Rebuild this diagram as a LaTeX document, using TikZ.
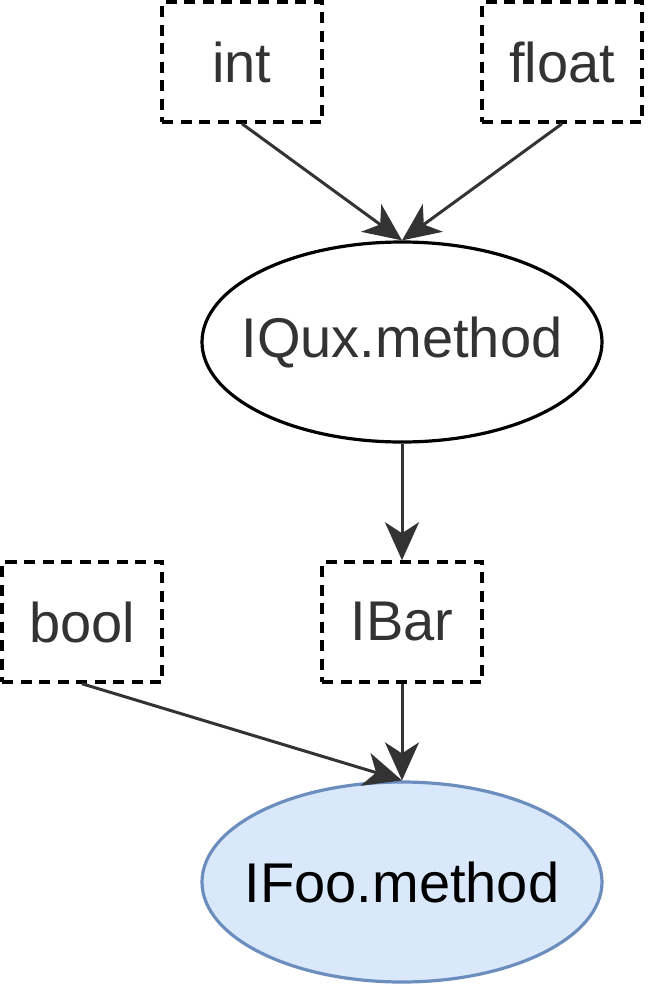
\documentclass[tikz,border=0pt]{standalone}
\usepackage{fontspec}
\setmainfont{Liberation Sans}
\usetikzlibrary{arrows.meta,shapes.geometric}
\definecolor{txtgray}{HTML}{333333}
\definecolor{foofill}{HTML}{DAE8FC}
\definecolor{foodraw}{HTML}{6C8EBF}
\begin{document}
\begin{tikzpicture}[x=1pt,y=-1pt,
  lbl/.style={font=\fontsize{56}{66}\selectfont, text=txtgray},
  typebox/.style={lbl, draw=black, line width=3.5pt, dash pattern=on 11pt off 7.5pt, minimum width=160pt, minimum height=120pt, inner sep=0pt},
  methodell/.style={ellipse, draw=black, line width=3.2pt, minimum width=400pt, minimum height=200pt, inner sep=0pt},
  conn/.style={draw=txtgray, line width=3pt, -{Stealth[length=38pt, width=34pt, inset=11pt]}}
]
\useasboundingbox (0,0) rectangle (648,988);
\node[typebox] (int) at (242,62) {int};
\node[typebox] (float) at (562,62) {float};
\node[methodell, label={[lbl]center:IQux.method}] (qux) at (402,342) {};
\node[typebox] (bool) at (82,622) {bool};
\node[typebox] (bar) at (402,622) {IBar};
\node[methodell, draw=foodraw, fill=foofill, label={[lbl, text=black]center:IFoo.method}] (foo) at (402,882) {};
\draw[conn] (int.south) -- (qux.north);
\draw[conn] (float.south) -- (qux.north);
\draw[conn] (qux.south) -- (bar.north);
\draw[conn] (bool.south) -- (foo.north);
\draw[conn] (bar.south) -- (foo.north);
\end{tikzpicture}
\end{document}
